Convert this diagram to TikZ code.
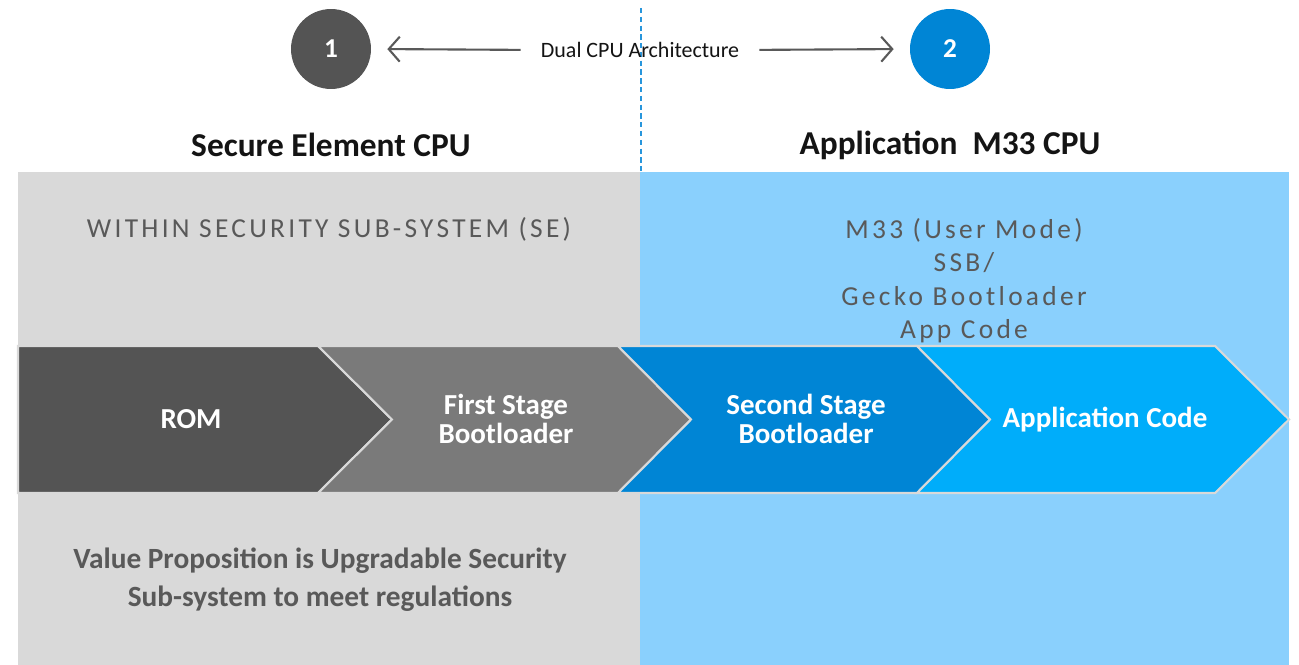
\documentclass[tikz,border=0pt]{standalone}
\usepackage{fontspec}
\setmainfont{Carlito}
\newfontfamily\spacedfont[LetterSpace=12]{Carlito}
\usetikzlibrary{
  arrows.meta,
  positioning
}
\definecolor{securegray}{RGB}{217,217,217}
\definecolor{appblue}{RGB}{138,208,253}
\definecolor{romcolor}{RGB}{84,84,84}
\definecolor{fsbcolor}{RGB}{122,122,122}
\definecolor{ssbcolor}{RGB}{0,133,213}
\definecolor{appcodecolor}{RGB}{0,173,250}
\definecolor{labelcolor}{RGB}{89,89,89}
\definecolor{titlecolor}{RGB}{20,20,20}
\definecolor{dividercolor}{RGB}{40,150,220}
\tikzset{
cpucircle/.style={
  circle,
  minimum size=1.6cm,
  inner sep=0pt,
  text=white,
  font=\fontsize{15.5}{17}\selectfont\bfseries
},
archlabel/.style={
  inner sep=0pt,
  font=\fontsize{12.5}{15}\selectfont,
  text=titlecolor
},
titlelabel/.style={
  font=\fontsize{19}{22}\selectfont\bfseries,
  text=titlecolor,
  align=center
},
panellabel/.style={
  font=\fontsize{15.6}{19}\spacedfont,
  text=labelcolor,
  align=center
},
stagelabel/.style={
  font=\fontsize{16.5}{17}\selectfont\bfseries,
  text=white,
  align=center
},
valuelabel/.style={
  font=\fontsize{16.7}{21.5}\selectfont\bfseries,
  text=labelcolor,
  align=center
},
chevron/.style={
  draw=securegray,
  line width=1.2pt,
  line join=miter
},
divider/.style={
  draw=dividercolor,
  line width=0.6pt,
  dash pattern=on 3pt off 2pt
},
arrow/.style={
  -{Straight Barb[length=2.2mm,width=5mm]},
  line width=1.2pt,
  draw=labelcolor
}
}
\begin{document}
\begin{tikzpicture}[x=0.02cm, y=-0.02cm]
  \useasboundingbox (0,0) rectangle (1299,665);
  % two cpu panels
  \fill[securegray] (18,172) rectangle (640,665);
  \fill[appblue] (640,172) rectangle (1289,665);
  \draw[divider] (641,8) -- (641,172);

  % cpu markers
  \node[cpucircle, fill=romcolor] (cpu1) at (331,49) {1};
  \node[cpucircle, fill=ssbcolor] (cpu2) at (950,49) {2};
  \node[archlabel] (dual) at (640,50) {Dual CPU Architecture};
  \draw[arrow, shorten <=4mm, shorten >=3.2mm] (dual.west) -- (cpu1.east);
  \draw[arrow, shorten <=4mm, shorten >=3.2mm] (dual.east) -- (cpu2.west);

  \node[titlelabel] (setitle) at (331,145) {Secure Element CPU};
  \node[titlelabel] (apptitle) at (950,145) {Application~~M33 CPU};

  \node[panellabel] (sepanel) at (329,229) {WITHIN SECURITY SUB-SYSTEM (SE)};
  \node[panellabel, anchor=north] (apppanel) at (964,212)
    {M33 (User Mode)\\SSB/\\Gecko Bootloader\\App Code};

  % boot chain
  \draw[chevron, fill=romcolor] (18,346) -- (318,346) -- (392,419.5) -- (318,493) -- (18,493) -- cycle;
  \draw[chevron, fill=fsbcolor] (318,346) -- (618,346) -- (691,419.5) -- (618,493) -- (318,493) -- (392,419.5) -- cycle;
  \draw[chevron, fill=ssbcolor] (618,346) -- (917,346) -- (990,419.5) -- (917,493) -- (618,493) -- (691,419.5) -- cycle;
  \draw[chevron, fill=appcodecolor] (917,346) -- (1215,346) -- (1289,419.5) -- (1215,493) -- (917,493) -- (990,419.5) -- cycle;

  \node[stagelabel] (rom) at (191,419) {ROM};
  \node[stagelabel] (fsb) at (506,419) {First Stage\\Bootloader};
  \node[stagelabel] (ssb) at (806,419) {Second Stage\\Bootloader};
  \node[stagelabel] (appcode) at (1105,420) {Application Code};

  \node[valuelabel] (value) at (320,580)
    {Value Proposition is Upgradable Security\\Sub-system to meet regulations};
\end{tikzpicture}
\end{document}
